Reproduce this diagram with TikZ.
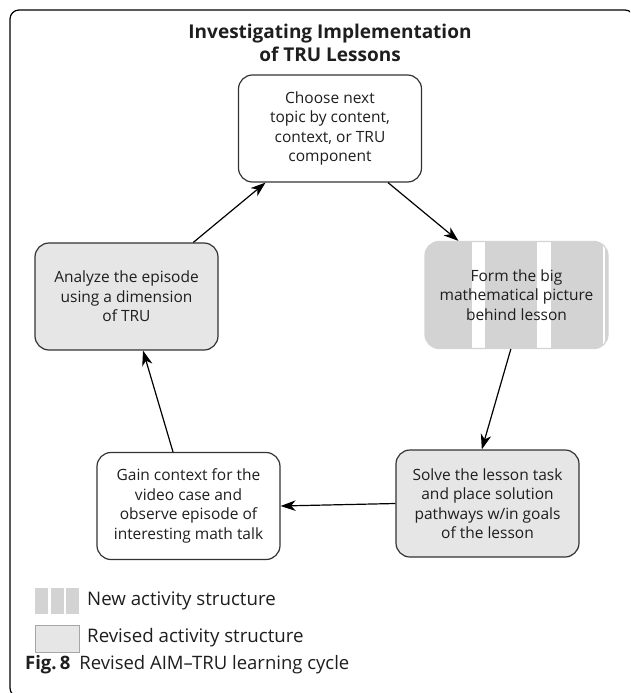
\documentclass[tikz,border=0pt]{standalone}
\usepackage{fontspec}
\setmainfont{Open Sans}
\usetikzlibrary{arrows.meta,positioning,calc}

\definecolor{newgray}{HTML}{D3D3D3}
\definecolor{revgray}{HTML}{E6E6E6}
\definecolor{boxline}{HTML}{333333}
\definecolor{inkgray}{HTML}{1E1E1E}

\begin{document}
\begin{tikzpicture}[x=1pt,y=-1pt,
    stage/.style={draw=boxline,line width=1.2pt,rounded corners=14pt,
        minimum width=183pt,minimum height=107pt,inner sep=0pt,
        align=center,text=inkgray,font=\fontsize{15.5}{19.5}\selectfont},
    revised/.style={stage,fill=revgray},
    newstage/.style={stage,draw=newgray,fill=newgray,
        path picture={
            \fill[white,sharp corners] ($(path picture bounding box.north west)+(47,0)$) rectangle ($(path picture bounding box.south west)+(60,0)$);
            \fill[white,sharp corners] ($(path picture bounding box.north west)+(112,0)$) rectangle ($(path picture bounding box.south west)+(126,0)$);
            \fill[white,sharp corners] ($(path picture bounding box.north west)+(178,0)$) rectangle ($(path picture bounding box.south west)+(180,0)$);
        }},
    cyc/.style={-{Stealth[length=15pt,width=10.5pt,inset=4.5pt]},line width=1.2pt,draw=black},
    legend/.style={anchor=west,inner sep=0pt,text=inkgray,font=\fontsize{18.7}{22}\selectfont}]

    \useasboundingbox (0,0) rectangle (630,693);
    % outer frame, only partly shown
    \begin{scope}
        \clip (0,0) rectangle (630,693);
        \draw[line width=1.2pt,rounded corners=9pt] (10,10) rectangle (634,697);
    \end{scope}

    \node[font=\bfseries\fontsize{19}{23}\selectfont,align=center,text=inkgray] (title) at (330,43) {Investigating Implementation\\of TRU Lessons};

    % the cycle
    \node[stage] (choose) at (330,128.5) {Choose next\\topic by content,\\context, or TRU\\component};
    \node[newstage] (form) at (516.5,295) {Form the big\\mathematical picture\\behind lesson};
    \node[revised] (solve) at (487.5,503.5) {Solve the lesson task\\and place solution\\pathways w/in goals\\of the lesson};
    \node[stage] (gain) at (188.5,506) {Gain context for the\\video case and\\observe episode of\\interesting math talk};
    \node[revised] (analyze) at (126.5,296.5) {Analyze the episode\\using a dimension\\of TRU};

    \draw[cyc] (choose.-43) -- (form.137);
    \draw[cyc] (form.-96) -- (solve.96);
    \draw[cyc] (solve.west) -- (gain.east);
    \draw[cyc] (gain.106) -- (analyze.-73);
    \draw[cyc] (analyze.39) -- (choose.-140);

    % legend
    \foreach \x in {35,50.5,66}
        \fill[newgray] (\x,588) rectangle ++(13,26);
    \node[legend] (newtext) at (87,601) {New activity structure};
    \node[draw=gray!70,fill=revgray,line width=0.8pt,minimum width=44pt,minimum height=27pt,inner sep=0pt] (revkey) at (57,638.5) {};
    \node[legend] (revtext) at (87,638) {Revised activity structure};

    \node[legend,font=\fontsize{18.5}{22}\selectfont] (caption) at (25,665) {\textbf{Fig.\,8}\hspace{9pt}Revised AIM–TRU learning cycle};
\end{tikzpicture}
\end{document}
